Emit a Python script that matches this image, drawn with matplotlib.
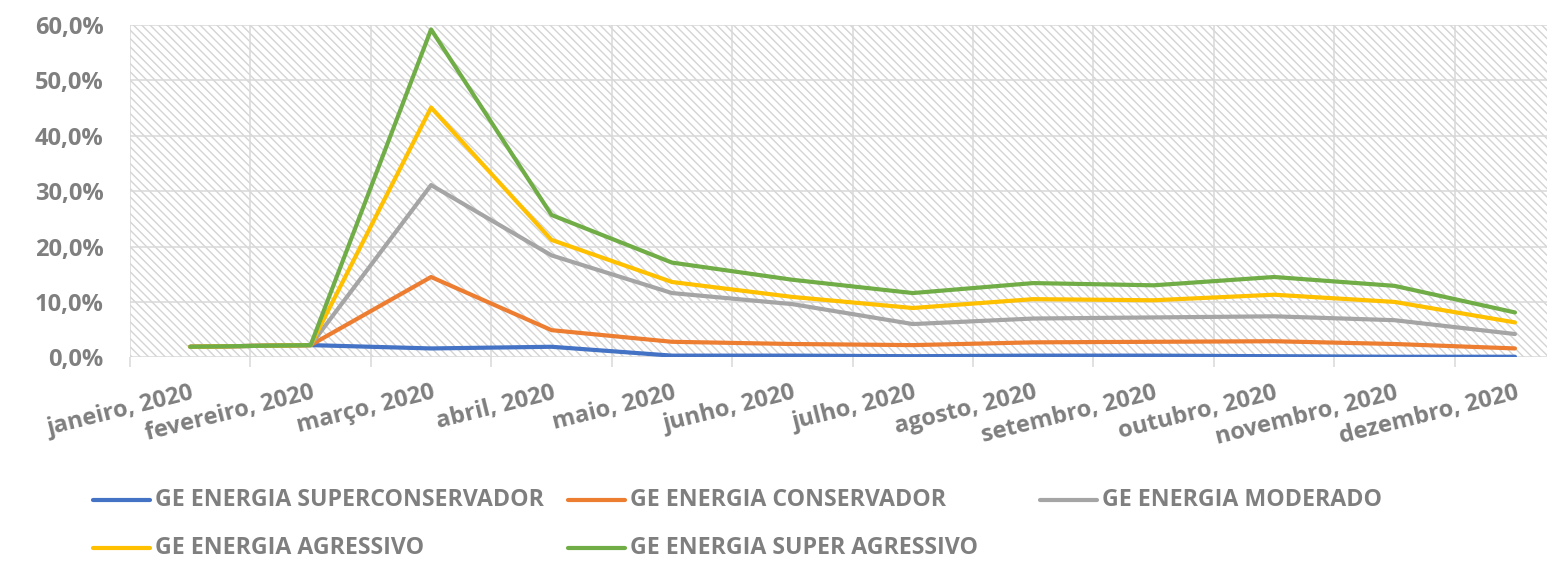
import matplotlib
matplotlib.use("Agg")
import matplotlib.pyplot as plt
from matplotlib.lines import Line2D
from matplotlib.patches import Rectangle
from matplotlib.ticker import FuncFormatter, FixedLocator

months = ["janeiro, 2020", "fevereiro, 2020", "março, 2020", "abril, 2020",
          "maio, 2020", "junho, 2020", "julho, 2020", "agosto, 2020",
          "setembro, 2020", "outubro, 2020", "novembro, 2020", "dezembro, 2020"]

superconservador = [1.9, 2.2, 1.6, 1.9, 0.3, 0.3, 0.2, 0.3, 0.3, 0.2, 0.1, 0.1]
conservador      = [1.9, 2.2, 14.5, 4.9, 2.8, 2.4, 2.2, 2.7, 2.8, 2.9, 2.4, 1.6]
moderado         = [1.9, 2.2, 31.1, 18.4, 11.6, 9.6, 6.0, 7.0, 7.2, 7.4, 6.7, 4.2]
agressivo        = [1.9, 2.2, 45.1, 21.2, 13.6, 10.9, 8.9, 10.5, 10.3, 11.3, 10.0, 6.3]
super_agressivo  = [1.9, 2.2, 59.2, 25.7, 17.1, 14.0, 11.6, 13.4, 13.0, 14.5, 12.9, 8.1]

series_names = ["GE ENERGIA SUPERCONSERVADOR", "GE ENERGIA CONSERVADOR",
                "GE ENERGIA MODERADO", "GE ENERGIA AGRESSIVO",
                "GE ENERGIA SUPER AGRESSIVO"]
series_values = [superconservador, conservador, moderado, agressivo, super_agressivo]
colors = ["#4472C4", "#ED7D31", "#A5A5A5", "#FFC000", "#70AD47"]

y_ticks = [0, 10, 20, 30, 40, 50, 60]

TEXT = "#7f7f7f"
GRID = "#d9d9d9"
FONT = ["Open Sans", "DejaVu Sans"]

plt.rcParams["hatch.color"] = "#d4d4d4"
plt.rcParams["hatch.linewidth"] = 1.0

W, H = 1547, 569
fig = plt.figure(figsize=(W / 100, H / 100), dpi=100)
ax = fig.add_axes([130 / W, 1 - 357.3 / H, (W - 130) / W, (357.3 - 25) / H])

x = list(range(len(months)))
ax.set_xlim(-0.5, 11.266)
ax.set_ylim(0, 60)

# hatched background
bg = Rectangle((0, 0), 1, 1, transform=ax.transAxes, facecolor="white",
               edgecolor="#d4d4d4", hatch="\\\\\\\\", linewidth=0, zorder=0)
ax.add_patch(bg)

for name, vals, c in zip(series_names, series_values, colors):
    ax.plot(x, vals, color=c, lw=3.0, solid_capstyle="round",
            solid_joinstyle="round", zorder=3, label=name)

for s in ax.spines.values():
    s.set_visible(False)

# grid
for yv in y_ticks:
    ax.axhline(yv, color=GRID, lw=1.1, zorder=1)
bounds = [i - 0.5 for i in range(len(months))]
for b in bounds:
    ax.axvline(b, color=GRID, lw=1.1, zorder=1)

ax.set_yticks(y_ticks)
ax.yaxis.set_major_formatter(FuncFormatter(lambda v, p: f"{v:.1f}%".replace(".", ",")))
ax.tick_params(axis="y", length=0, pad=19, labelsize=17, labelcolor=TEXT)

ax.set_xticks(x)
ax.set_xticklabels(months)
ax.xaxis.set_minor_locator(FixedLocator(bounds))
ax.tick_params(axis="x", which="major", length=0, pad=17, labelsize=17, labelcolor=TEXT)
ax.tick_params(axis="x", which="minor", length=7, width=1.1, color=GRID)
for lab in ax.get_xticklabels():
    lab.set_rotation(14)
    lab.set_ha("right")
    lab.set_va("top")
    lab.set_rotation_mode("anchor")
for lab in ax.get_xticklabels() + ax.get_yticklabels():
    lab.set_fontfamily(FONT)
    lab.set_fontweight("bold")

# legend (Excel-style fixed column widths)
col_x = [93, 568, 1040]
row_y = [500, 548]
for i, (name, c) in enumerate(zip(series_names, colors)):
    r, col = divmod(i, 3)
    x0 = col_x[col]
    yy = 1 - row_y[r] / H
    fig.add_artist(Line2D([x0 / W, (x0 + 57) / W], [yy, yy], color=c, lw=3.0,
                          solid_capstyle="round", transform=fig.transFigure))
    fig.text((x0 + 62) / W, yy, name, color=TEXT, fontsize=16.7, fontfamily=FONT,
             fontweight="bold", va="center", ha="left")

fig.savefig("out.png", dpi=100, facecolor="white")
